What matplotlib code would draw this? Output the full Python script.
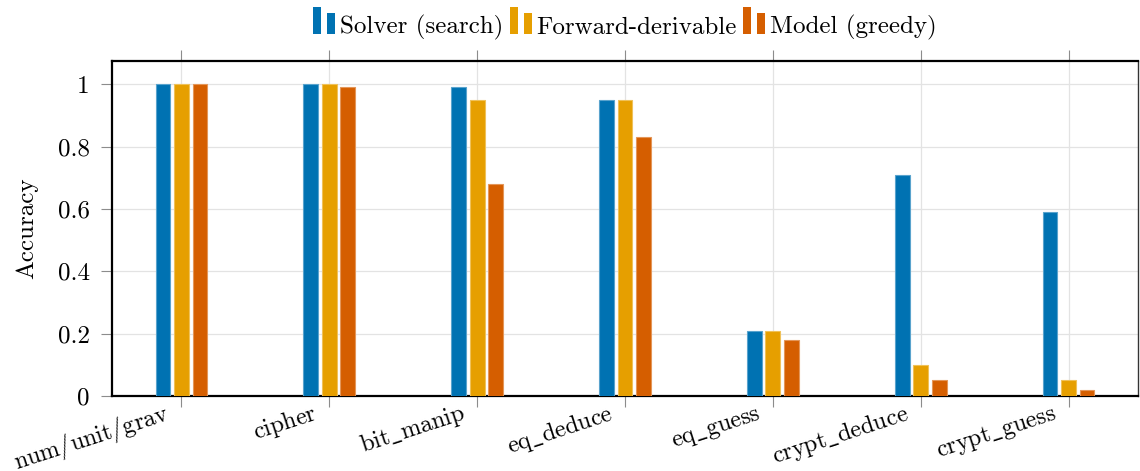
import matplotlib
matplotlib.use("Agg")
import matplotlib.pyplot as plt
import numpy as np
from matplotlib.patches import Rectangle
from matplotlib.legend_handler import HandlerBase
from matplotlib.transforms import ScaledTranslation
from matplotlib.ticker import FuncFormatter, FixedLocator
import matplotlib.colors as mcolors

plt.rcParams["font.family"] = ["cmr10"]
plt.rcParams["mathtext.fontset"] = "cm"
plt.rcParams["axes.unicode_minus"] = False
plt.rcParams["axes.formatter.use_mathtext"] = True

# Task categories and accuracy per method
categories = ["num/unit/grav", "cipher", "bit_manip", "eq_deduce",
              "eq_guess", "crypt_deduce", "crypt_guess"]
solver_search = [1.00, 1.00, 0.99, 0.95, 0.21, 0.71, 0.59]
forward_derivable = [1.00, 1.00, 0.95, 0.95, 0.21, 0.10, 0.05]
model_greedy = [1.00, 0.99, 0.68, 0.83, 0.18, 0.05, 0.02]

series_names = ["Solver (search)", "Forward-derivable", "Model (greedy)"]
series_colors = ["#0072B2", "#E69F00", "#D55E00"]
y_ticks = [0, 0.2, 0.4, 0.6, 0.8, 1]

FS = 18
FS_X = 17.4


def lighten(c, amt=0.35):
    r, g, b = mcolors.to_rgb(c)
    return (r + (1 - r) * amt, g + (1 - g) * amt, b + (1 - b) * amt)


def tex_label(s):
    # upright Computer Modern text, with a proper TeX underscore
    return r"$\mathrm{" + s.replace("_", r"\_") + "}$"


class PairBarHandler(HandlerBase):
    """Legend icon made of two small bars, the first one taller."""
    def create_artists(self, legend, orig_handle, xdescent, ydescent,
                       width, height, fontsize, trans):
        fc = orig_handle.get_facecolor()
        bw = width * 0.36
        gap = width * 0.28
        h1 = fontsize * 1.07
        h2 = fontsize * 0.82
        r1 = Rectangle((-xdescent, -ydescent), bw, h1, facecolor=fc,
                       edgecolor="none", transform=trans)
        r2 = Rectangle((-xdescent + bw + gap, -ydescent), bw, h2, facecolor=fc,
                       edgecolor="none", transform=trans)
        return [r1, r2]


fig = plt.figure(figsize=(11.4, 4.71), dpi=100)
ax = fig.add_axes([112 / 1140, 1 - 396 / 471, (1138 - 112) / 1140, (396 - 61) / 471])

x = np.arange(len(categories))
bar_w = 0.10
step = 0.125
handles = []
for i, (vals, col) in enumerate(zip([solver_search, forward_derivable, model_greedy],
                                    series_colors)):
    b = ax.bar(x + (i - 1) * step, vals, width=bar_w, color=col,
               edgecolor=lighten(col), linewidth=0.8, zorder=3,
               label=series_names[i])
    handles.append(b.patches[0])

ax.set_xlim(-0.47, len(categories) - 1 + 0.47)
ax.set_ylim(0, 1.075)

ax.xaxis.set_major_locator(FixedLocator(x))
ax.set_xticklabels([tex_label(c) for c in categories], fontsize=FS_X,
                   rotation=18, ha="right", va="baseline", rotation_mode="anchor")
ax.yaxis.set_major_locator(FixedLocator(y_ticks))
ax.yaxis.set_major_formatter(FuncFormatter(lambda v, p: f"{v:g}"))
ax.tick_params(axis="y", labelsize=FS, direction="out", length=8, width=0.8,
               color="#8c8c8c", pad=8)
ax.tick_params(axis="x", direction="out", length=8, width=0.8,
               color="#8c8c8c", pad=8.6, top=True, labeltop=False)

off = ScaledTranslation(-11 / 100, 0, fig.dpi_scale_trans)
for lab in ax.get_xticklabels():
    lab.set_transform(lab.get_transform() + off)

ax.grid(True, color="#e3e3e3", linewidth=0.9, zorder=0)
ax.set_axisbelow(True)

for side in ["left", "bottom", "top"]:
    ax.spines[side].set_linewidth(1.6)
    ax.spines[side].set_color("black")
ax.spines["right"].set_linewidth(1.0)
ax.spines["right"].set_color("#333333")

ax.set_ylabel("Accuracy", fontsize=FS, labelpad=14)

leg = ax.legend(handles=handles, labels=series_names,
                handler_map={h: PairBarHandler() for h in handles},
                loc="center", bbox_to_anchor=(0.5, 1.10), ncol=3,
                frameon=False, fontsize=FS, handlelength=0.88,
                handletextpad=0.2, columnspacing=0.25, borderaxespad=0)

fig.savefig("out.png", dpi=100)
